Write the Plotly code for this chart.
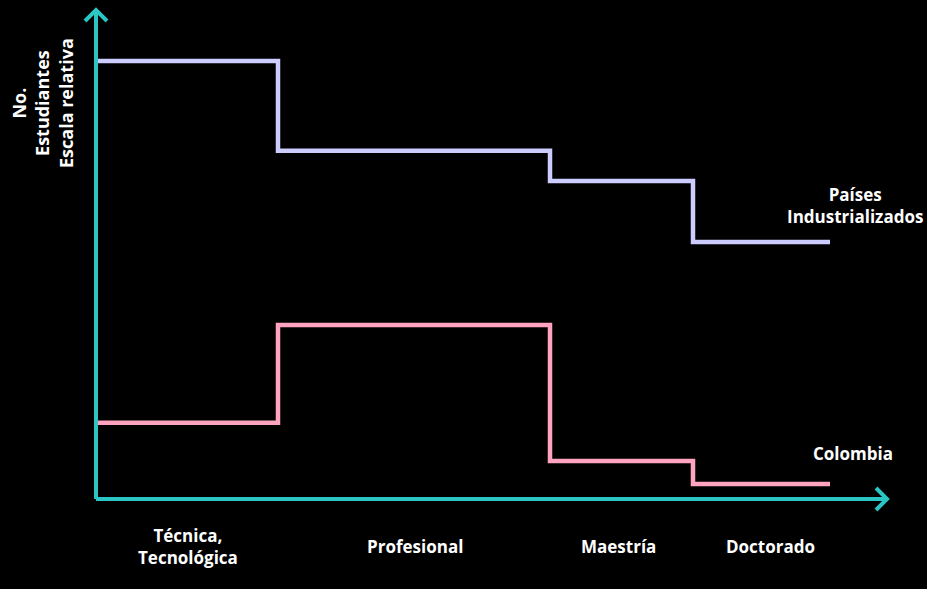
import plotly.graph_objects as go

# Data
categories = ["Técnica,<br>Tecnológica", "Profesional", "Maestría", "Doctorado"]
level_edges = [0, 182, 454, 597, 734]          # category boundaries along x (relative units)
industrializados = [100.0, 79.5, 72.6, 58.7]  # relative scale
colombia = [17.4, 39.7, 8.7, 3.4]
series_names = ["Países<br>Industrializados", "Colombia"]
y_title = "No.<br>Estudiantes<br>Escala relativa"

LAV = "#CCCCFF"
PINK = "#FFA3BE"
CYAN = "#2BC6C4"
FONT = "Open Sans"

W, H = 927, 589
# axis mapping: x data units == px from y-axis (at px 96), y units = 4.38 px
X0PX, Y0PX, YK = 96, 499, 4.38
xr = [-X0PX, W - X0PX]
yr = [(Y0PX - H) / YK, Y0PX / YK]

def step(vals):
    return list(vals) + [vals[-1]]

fig = go.Figure()
fig.add_trace(go.Scatter(x=level_edges, y=step(industrializados), mode="lines",
                         line=dict(color=LAV, width=4.5, shape="hv"), hoverinfo="skip"))
fig.add_trace(go.Scatter(x=level_edges, y=step(colombia), mode="lines",
                         line=dict(color=PINK, width=4.5, shape="hv"), hoverinfo="skip"))

# axes with open arrow heads
ytop = (Y0PX - 10) / YK
xend = 887 - X0PX
fig.add_shape(type="line", x0=0, y0=0, x1=0, y1=ytop, line=dict(color=CYAN, width=4))
fig.add_shape(type="line", x0=0, y0=0, x1=xend, y1=0, line=dict(color=CYAN, width=4))
ah = 11  # px
fig.add_shape(type="path",
              path=f"M {-ah},{ytop - ah / YK} L 0,{ytop} L {ah},{ytop - ah / YK}",
              line=dict(color=CYAN, width=4))
fig.add_shape(type="path",
              path=f"M {xend - ah},{ah / YK} L {xend},0 L {xend - ah},{-ah / YK}",
              line=dict(color=CYAN, width=4))

# category labels
cat_x = [92, 319, 522, 674]
for c, cx in zip(categories, cat_x):
    fig.add_annotation(x=cx, y=(Y0PX - 546) / YK, text=f"<b>{c}</b>", showarrow=False,
                       font=dict(family=FONT, size=17, color="white"), align="center")

# series labels
fig.add_annotation(x=855 - X0PX, y=(Y0PX - 205) / YK, text=f"<b>{series_names[0]}</b>",
                   showarrow=False, font=dict(family=FONT, size=17, color="white"), align="center")
fig.add_annotation(x=853 - X0PX, y=(Y0PX - 453) / YK, text=f"<b>{series_names[1]}</b>",
                   showarrow=False, font=dict(family=FONT, size=17, color="white"), align="center")

# y title
fig.add_annotation(x=42 - X0PX, y=(Y0PX - 103) / YK, text=f"<b>{y_title}</b>", textangle=-90,
                   showarrow=False, font=dict(family=FONT, size=18, color="white"), align="center")

fig.update_layout(
    width=W, height=H, margin=dict(l=0, r=0, t=0, b=0),
    paper_bgcolor="black", plot_bgcolor="black", showlegend=False,
    xaxis=dict(range=xr, visible=False, fixedrange=True),
    yaxis=dict(range=yr, visible=False, fixedrange=True),
)
fig.write_html("out.html", config={"displayModeBar": False},
               post_script="document.body.style.margin='0';document.body.style.background='black';document.body.style.overflow='hidden';")
